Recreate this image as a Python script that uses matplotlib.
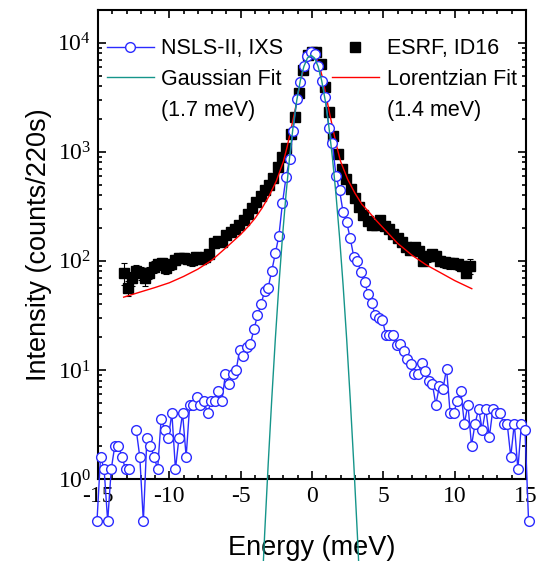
import numpy as np
import matplotlib
matplotlib.use("Agg")
import matplotlib.pyplot as plt
from matplotlib.lines import Line2D
from matplotlib.ticker import LogLocator, MultipleLocator, NullFormatter

# NSLS-II IXS scan, 0.25 meV steps (nan = zero counts, not shown on log axis)
ixs_start = -15.07
ixs_step = 0.25
ixs_counts = [
    0.41, 1.6, 1.23, 0.41, 1.23, 2.02, 2.02, 1.6, 1.23, 1.23,
    np.nan, 2.82, 1.6, 0.41, 2.4, 2.02, 1.6, 1.23, 3.58, 2.82,
    2.4, 4.0, 1.23, 2.4, 4.0, 1.6, 4.79, 4.79, 5.6, 4.79,
    5.17, 4.0, 5.17, 5.17, 6.36, 5.17, 9.1, 7.5, 9.1, 9.9,
    15.3, 13.5, 16.1, 17.3, 23.5, 31.6, 40, 53, 57, 81,
    117, 170, 339, 586, 853, 1560, 3040, 4360, 6190, 7500,
    8220, 7830, 6190, 4510, 3210, 1670, 1200, 606, 444, 280,
    226, 161, 109, 99, 79, 64, 50, 41, 32, 30,
    28.8, 21, 20.9, 20.9, 16.9, 17.3, 14.8, 12.6, 11.4, 9.1,
    9.1, 11.5, 9.8, 7.9, 7.5, 4.82, 7.1, 6.7, 10.3, 4.04,
    4.04, 5.17, 6.36, 3.22, 4.82, 2.02, 3.22, 4.4, 2.83, 4.4,
    2.43, 4.4, 4.04, 4.04, 3.22, 3.22, 1.6, 3.22, 1.23, 3.22,
    2.83, 0.41,
]
ixs_energy = ixs_start + ixs_step * np.arange(len(ixs_counts))

# ESRF ID16 scan
esrf_energy = np.linspace(-13.2, 11.1, 82)
esrf_counts = [
    78, 57, 69, 81, 77, 69, 78, 88, 93, 95,
    86, 93, 102, 106, 107, 104, 101, 109, 104, 108,
    115, 145, 152, 150, 172, 185, 198, 215, 237, 268,
    305, 345, 395, 445, 500, 580, 720, 900, 1080, 1450,
    2100, 3500, 5600, 7800, 8200, 8300, 6400, 3900, 2300, 1400,
    960, 700, 560, 460, 380, 315, 265, 230, 212, 215,
    235, 207, 195, 178, 162, 150, 135, 125, 134, 122,
    100, 110, 115, 112, 100, 97, 95, 96, 93, 90,
    78, 90,
]
esrf_err = [
    18, 9, 10, 10, 10, 10, 10, 11, 11, 11,
    10, 11, 11, 11, 11, 11, 11, 12, 11, 12,
    12, 13, 13, 13, 14, 14, 15, 15, 16, 17,
    18, 19, 20, 21, 22, 24, 27, 30, 33, 38,
    46, 60, 80, 90, 90, 90, 80, 60, 48, 38,
    33, 30, 27, 25, 22, 20, 18, 17, 16, 16,
    17, 16, 15, 15, 14, 13, 13, 12, 13, 12,
    11, 12, 12, 12, 11, 11, 11, 11, 10, 10,
    9, 14,
]

# fit curves
gauss_energy = [-3.57, -3.32, -3.07, -2.82, -2.57, -2.32, -2.07, -1.82, -1.57, -1.32,
                -1.07, -0.82, -0.57, -0.32, -0.07, 0.18, 0.43, 0.68, 0.93, 1.18,
                1.43, 1.68, 1.93, 2.18, 2.43, 2.68, 2.93, 3.18, 3.43]
gauss_counts = [0.061, 0.31, 1.37, 5.4, 19.2, 60, 166, 408, 890, 1720,
                2950, 4490, 6060, 7250, 7700, 7250, 6060, 4490, 2950, 1720,
                890, 408, 166, 60, 19.2, 5.4, 1.37, 0.31, 0.061]

lor_energy = [-13.2, -12, -11, -10, -9, -8, -7, -6, -5, -4.5,
              -4, -3.5, -3, -2.5, -2, -1.75, -1.5, -1.25, -1, -0.75,
              -0.5, -0.25, 0, 0.25, 0.5, 0.75, 1, 1.25, 1.5, 1.75,
              2, 2.5, 3, 3.5, 4, 4.5, 5, 6, 7, 8,
              9, 10, 11.2]
lor_counts = [46.5, 52, 57, 63, 72, 84, 102, 133, 175, 205,
              245, 305, 395, 540, 820, 1100, 1550, 2200, 3200, 4700,
              6300, 7500, 7800, 7500, 6300, 4700, 3200, 2200, 1550, 1100,
              820, 560, 420, 330, 280, 235, 200, 145, 113, 92,
              78, 66, 55.6]

BLUE = "#2b2bff"
TEAL = "#15958a"

plt.rcParams["font.family"] = ["Liberation Sans", "DejaVu Sans"]
plt.rcParams["axes.unicode_minus"] = False

fig = plt.figure(figsize=(5.41, 5.61), dpi=100)
ax = fig.add_axes([0.1811, 0.1462, 0.7912, 0.836])

ax.errorbar(esrf_energy, esrf_counts, yerr=esrf_err, fmt="s", color="black",
            ms=6.6, elinewidth=0.8, capsize=2, capthick=0.8, zorder=1)
ax.plot(lor_energy, lor_counts, color="red", lw=1, zorder=2)
ax.plot(ixs_energy, ixs_counts, "-o", color=BLUE, mfc="white", mec=BLUE,
        ms=7, mew=1, lw=1, clip_on=False, zorder=3)
ax.plot(gauss_energy, gauss_counts, color=TEAL, lw=1, clip_on=False, zorder=4)

ax.set_yscale("log")
ax.set_xlim(-15, 15)
ax.set_ylim(1, 2e4)
ax.xaxis.set_major_locator(MultipleLocator(5))
ax.xaxis.set_minor_locator(MultipleLocator(1))
ax.yaxis.set_minor_locator(LogLocator(base=10, subs=range(2, 10)))
ax.yaxis.set_minor_formatter(NullFormatter())

for s in ax.spines.values():
    s.set_linewidth(1.5)
ax.tick_params(which="both", direction="in", top=True, right=True, width=1.2,
               labelsize=17, labelfontfamily="Liberation Serif")
ax.tick_params(which="major", length=5.5, pad=5)
ax.tick_params(which="minor", length=3)

ax.set_xlabel("Energy (meV)", fontsize=19.5, labelpad=20)
ax.set_ylabel("Intensity (counts/220s)", fontsize=19.5, labelpad=4)

blank = Line2D([], [], linestyle="none")
left_handles = [
    Line2D([], [], color=BLUE, marker="o", mfc="white", mec=BLUE, ms=7, lw=1),
    Line2D([], [], color=TEAL, lw=1),
    blank,
]
leg1 = ax.legend(left_handles, ["NSLS-II, IXS", "Gaussian Fit", "(1.7 meV)"],
                 loc="upper left", bbox_to_anchor=(0.02, 0.94), frameon=False,
                 fontsize=15.5, handlelength=2.2, handletextpad=0.35,
                 labelspacing=0.45, borderpad=0, borderaxespad=0)
ax.add_artist(leg1)

right_handles = [
    Line2D([], [], color="black", marker="s", linestyle="none", ms=6.6),
    Line2D([], [], color="red", lw=1),
    blank,
]
ax.legend(right_handles, ["ESRF, ID16", "Lorentzian Fit", "(1.4 meV)"],
          loc="upper right", bbox_to_anchor=(0.978, 0.94), frameon=False,
          fontsize=15.5, handlelength=2.2, handletextpad=0.35,
          labelspacing=0.45, borderpad=0, borderaxespad=0)

fig.savefig("out.png", dpi=100)
